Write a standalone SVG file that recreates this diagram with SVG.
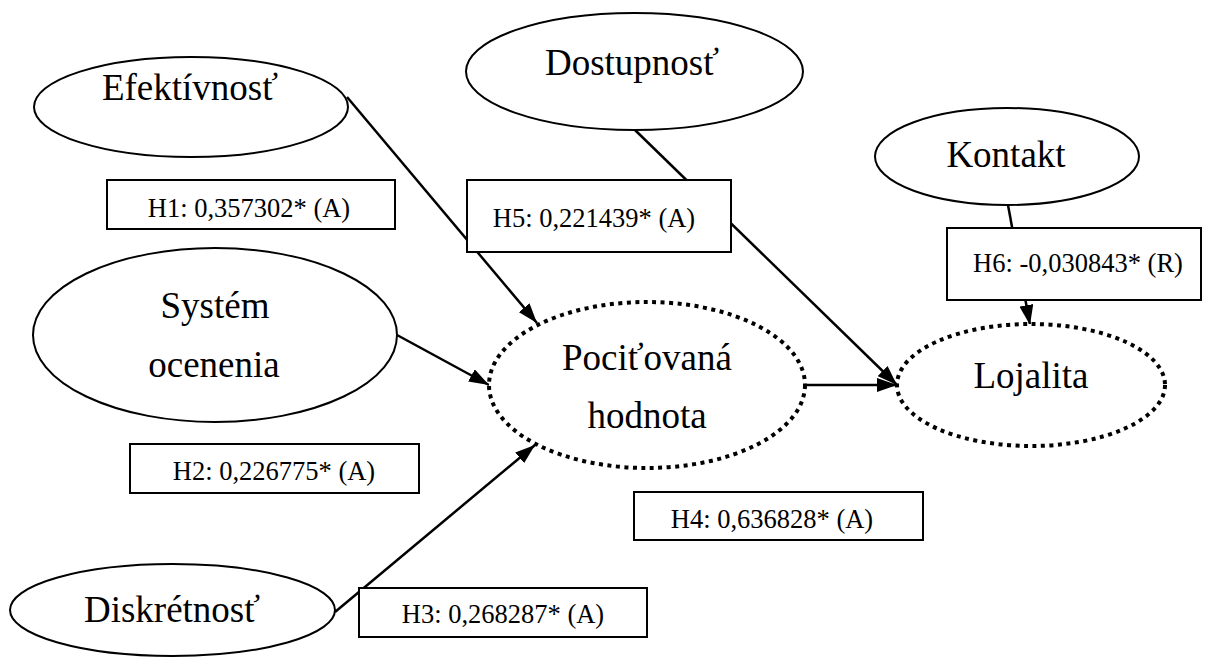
<svg xmlns="http://www.w3.org/2000/svg" width="1209" height="657" viewBox="0 0 1209 657">
  <defs>
    <marker id="arrow" viewBox="0 0 20 14" refX="20" refY="7" markerWidth="20" markerHeight="14" markerUnits="userSpaceOnUse" orient="auto">
      <path d="M0,0 L20,7 L0,14 Z" fill="#000"/>
    </marker>
  </defs>
  <style>
    .construct { fill: #fff; stroke: #000; stroke-width: 2; }
    .latent { fill: #fff; stroke: #000; stroke-width: 4; stroke-dasharray: 4 4.5; }
    .label { fill: #fff; stroke: #000; stroke-width: 2; }
    .name { font-family: "Liberation Serif", "Times New Roman", serif; font-size: 37px; fill: #000; text-anchor: middle; }
    .coef { font-family: "Liberation Serif", "Times New Roman", serif; font-size: 26.5px; fill: #000; text-anchor: middle; }
    .edge { stroke: #000; stroke-width: 2.5; fill: none; marker-end: url(#arrow); }
  </style>
  <rect width="1209" height="657" fill="#fff"/>

  <!-- paths between constructs -->
  <g id="connectors">
    <line class="edge" x1="347" y1="97" x2="537" y2="323"/>
    <line class="edge" x1="397" y1="335" x2="489" y2="385"/>
    <line class="edge" x1="335" y1="612" x2="535" y2="445"/>
    <line class="edge" x1="805" y1="385" x2="897" y2="385"/>
    <line class="edge" x1="635" y1="130" x2="897" y2="385"/>
    <line class="edge" x1="1008" y1="205" x2="1030" y2="325"/>
  </g>

  <g id="efektivnost">
    <ellipse class="construct" cx="191" cy="107" rx="157" ry="50"/>
    <text class="name" x="190" y="100">Efektívnosť</text>
  </g>
  <g id="dostupnost">
    <ellipse class="construct" cx="634.5" cy="71.5" rx="168.5" ry="58.5"/>
    <text class="name" x="632" y="75">Dostupnosť</text>
  </g>
  <g id="kontakt">
    <ellipse class="construct" cx="1007" cy="156.5" rx="132" ry="48.5"/>
    <text class="name" x="1006" y="167">Kontakt</text>
  </g>
  <g id="system-ocenenia">
    <ellipse class="construct" cx="215" cy="335" rx="182" ry="87"/>
    <text class="name" x="215" y="318">Systém</text>
    <text class="name" x="214" y="377">ocenenia</text>
  </g>
  <g id="diskretnost">
    <ellipse class="construct" cx="172.5" cy="610" rx="162.5" ry="46"/>
    <text class="name" x="172" y="622">Diskrétnosť</text>
  </g>
  <g id="pocitovana-hodnota">
    <ellipse class="latent" cx="647" cy="385" rx="158" ry="83"/>
    <text class="name" x="647" y="370">Pociťovaná</text>
    <text class="name" x="647" y="428">hodnota</text>
  </g>
  <g id="lojalita">
    <ellipse class="latent" cx="1031" cy="385" rx="134" ry="61"/>
    <text class="name" x="1031" y="388">Lojalita</text>
  </g>

  <g id="h1">
    <rect class="label" x="107" y="180" width="288" height="49"/>
    <text class="coef" x="249" y="217">H1: 0,357302* (A)</text>
  </g>
  <g id="h2">
    <rect class="label" x="130" y="444" width="289" height="49"/>
    <text class="coef" x="274" y="480">H2: 0,226775* (A)</text>
  </g>
  <g id="h3">
    <rect class="label" x="359" y="588" width="288" height="49"/>
    <text class="coef" x="503" y="623">H3: 0,268287* (A)</text>
  </g>
  <g id="h4">
    <rect class="label" x="634" y="492" width="289" height="48"/>
    <text class="coef" x="772" y="528">H4: 0,636828* (A)</text>
  </g>
  <g id="h5">
    <rect class="label" x="467" y="180" width="264" height="72"/>
    <text class="coef" x="594" y="227">H5: 0,221439* (A)</text>
  </g>
  <g id="h6">
    <rect class="label" x="947" y="228" width="254" height="72"/>
    <text class="coef" x="1078" y="272">H6: -0,030843* (R)</text>
  </g>
</svg>
